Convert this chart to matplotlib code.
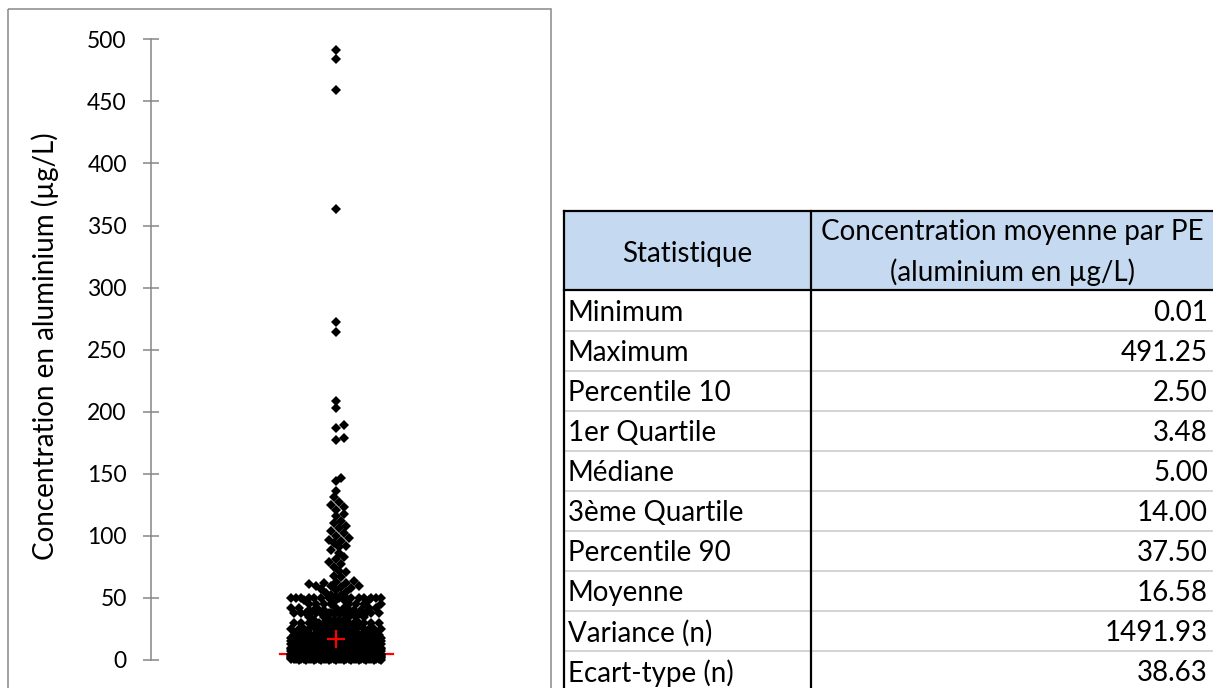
import numpy as np
import matplotlib.pyplot as plt
from matplotlib.patches import Rectangle

plt.rcParams['font.family'] = ['Lato', 'DejaVu Sans']

# Aluminium concentrations (µg/L): repeated levels and how often each occurs
levels = [0.01, 0.05, 0.1, 0.2, 0.5, 1.0, 1.5, 2.0, 2.5, 3.0, 3.3, 3.48, 4.0, 4.5, 5.0,
          6, 7, 8, 9, 10, 12, 13, 14, 15, 16, 18, 20, 22, 25, 27, 30, 32, 35,
          37.5, 40, 42, 45, 48, 50]
counts = [1, 2, 4, 5, 10, 18, 14, 30, 140, 20, 20, 20, 40, 30, 250,
          30, 30, 30, 25, 50, 30, 20, 30, 20, 12, 15, 25, 10, 15, 8, 14, 5, 5,
          20, 7, 6, 8, 4, 16]
# individual values above 50 µg/L
upper = [51, 52, 52, 54, 55, 56, 57, 58, 59, 60, 60, 60, 61, 62, 62, 63,
         64, 66.5, 68, 70.5, 72, 75, 77.5, 79, 81.5, 83, 86, 88.5,
         91, 92, 94, 96, 97, 98, 100, 102, 104, 106, 108, 110, 112,
         116, 118, 121, 123, 125, 127, 131,
         136, 144, 147, 177, 179, 187, 189, 203, 209, 264, 272, 363, 459, 484, 491.25]

# summary table
stat_names = ['Minimum', 'Maximum', 'Percentile 10', '1er Quartile', 'Médiane',
              '3ème Quartile', 'Percentile 90', 'Moyenne', 'Variance (n)', 'Ecart-type (n)']
stat_values = [0.01, 491.25, 2.50, 3.48, 5.00, 14.00, 37.50, 16.58, 1491.93, 38.63]
median = stat_values[4]
mean = stat_values[7]

conc = np.concatenate([np.repeat(levels, counts), upper])

W, H = 1213, 688
fig = plt.figure(figsize=(W / 100, H / 100), dpi=100)

# chart axes; x is measured in pixels so the swarm spacing is easy to control
ax_left, ax_right, y0_px, y500_px = 150.7, 545.0, 660.0, 39.3
ax = fig.add_axes([ax_left / W, (H - y0_px) / H, (ax_right - ax_left) / W, (y0_px - y500_px) / H])
ax.set_xlim(0, ax_right - ax_left)
ax.set_ylim(0, 500)
px_per_unit = (y0_px - y500_px) / 500
cx = 336 - ax_left


def swarm(ypx, min_dist=6.0, step=2.5, half_width=46.0):
    # beeswarm layout: each point (lowest first) goes to the nearest free slot
    order = np.argsort(ypx, kind='stable')
    n = int(half_width // step)
    cands = [0.0]
    for k in range(1, n + 1):
        cands += [k * step, -k * step]
    cands = np.array(cands)
    xs = np.zeros(len(ypx))
    px, py = [], []
    for i in order:
        y = ypx[i]
        if px:
            pxa, pya = np.array(px), np.array(py)
            near = np.abs(pya - y) < min_dist
            if near.any():
                d = np.sqrt((cands[:, None] - pxa[near][None, :]) ** 2 + (y - pya[near][None, :]) ** 2).min(axis=1)
                ok = np.where(d >= min_dist)[0]
                xs[i] = cands[ok[0]] if len(ok) else cands[np.argmax(d)]
        px.append(xs[i])
        py.append(y)
    return xs


xoff = swarm(conc * px_per_unit)

ax.plot([cx - 56, cx + 57], [median, median], color='red', lw=1.6, zorder=1, clip_on=False)
ax.plot(cx + xoff, conc, linestyle='none', marker='D', ms=5.6, mew=0,
        color='black', zorder=2, clip_on=False)
ax.plot([cx], [mean], linestyle='none', marker='+', ms=13, mew=1.6, color='red', zorder=3)

for s in ['top', 'right', 'bottom']:
    ax.spines[s].set_visible(False)
ax.spines['left'].set_color('#868686')
ax.spines['left'].set_linewidth(1.1)
ax.set_xticks([])
ax.set_yticks(range(0, 501, 50))
ax.tick_params(axis='y', direction='inout', length=11.5, width=1.1, color='#868686',
               pad=11.5, labelsize=16.5)
ax.patch.set_alpha(0)

fig.text(45 / W, 1 - 346 / H, 'Concentration en aluminium (µg/L)', rotation=90,
         ha='center', va='center', fontsize=20)

# overlay in pixel coordinates for the frame and the table
ov = fig.add_axes([0, 0, 1, 1], zorder=-1)
ov.set_xlim(0, W)
ov.set_ylim(H, 0)
ov.axis('off')

ov.add_patch(Rectangle((8, 9), 551 - 8, 720, fill=False, ec='#898989', lw=1.1))

tx0, tx1, tdiv = 564, 1216, 811
ttop, thead = 211, 290
row_h = 40
ov.add_patch(Rectangle((tx0, ttop), tx1 - tx0, thead - ttop, fc='#C5D9F1', ec='none'))
for i in range(1, len(stat_names)):
    y = thead + 1 + row_h * i
    ov.plot([tx0, tx1], [y, y], color='#D4D4D4', lw=1.4)
ov.plot([tx0, tx1], [ttop, ttop], color='black', lw=1.6)
ov.plot([tx0, tx1], [thead, thead], color='black', lw=1.6)
ov.plot([tx0, tx0], [ttop, H + 10], color='black', lw=1.6)
ov.plot([tdiv, tdiv], [ttop, H + 10], color='black', lw=1.6)

fs = 20
ov.text((tx0 + tdiv) / 2, 254, 'Statistique', ha='center', va='center', fontsize=fs)
ov.text(1012, 232, 'Concentration moyenne par PE', ha='center', va='center', fontsize=fs)
ov.text(1012, 272, '(aluminium en µg/L)', ha='center', va='center', fontsize=fs)
for i, (name, val) in enumerate(zip(stat_names, stat_values)):
    y = 313 + row_h * i
    ov.text(568, y, name, ha='left', va='center', fontsize=fs)
    ov.text(1208, y, f'{val:.2f}', ha='right', va='center', fontsize=fs)

fig.savefig('out.png', dpi=100)
